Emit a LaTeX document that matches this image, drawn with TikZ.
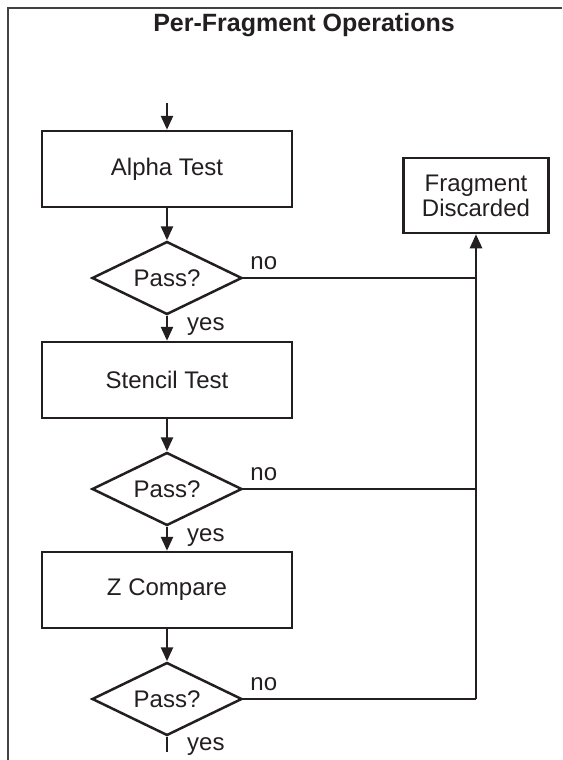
\documentclass[tikz,border=0pt]{standalone}
\usepackage{fontspec}
\setmainfont{Liberation Sans}
\usetikzlibrary{shapes.geometric,arrows.meta}
\definecolor{ink}{HTML}{231F20}
\begin{document}
\begin{tikzpicture}[x=1pt,y=-1pt,
  every node/.style={font=\fontsize{24}{25}\selectfont, text=ink},
  stagebox/.style={draw=ink, line width=2.5pt, rectangle, minimum width=250pt, minimum height=76pt, inner sep=0pt},
  discbox/.style={draw=ink, line width=2.5pt, rectangle, minimum width=145pt, minimum height=75pt, inner sep=0pt, align=center},
  decision/.style={draw=ink, line width=2.5pt, diamond, aspect=2, minimum width=150pt, minimum height=73pt, inner sep=0pt},
  flow/.style={draw=ink, line width=2.5pt, -{Triangle[length=14pt,width=12pt]}},
  plain/.style={draw=ink, line width=2.5pt},
  lbl/.style={anchor=base west, inner sep=0pt}]
\useasboundingbox (0,0) rectangle (562,760);
\fill[white] (0,0) rectangle (562,760);
% frame
\draw[line width=2pt, ink!85] (562,8) -- (8,8) -- (8,760);
% title
\node[anchor=base, inner sep=0pt, font=\fontsize{25}{26}\selectfont\bfseries] (title) at (304,31.5) {Per-Fragment Operations};
% nodes
\coordinate (start) at (167,103);
\node[stagebox] (alpha) at (167,169) {Alpha Test};
\node[decision] (d1) at (167,278) {Pass?};
\node[stagebox] (stencil) at (167,380) {Stencil Test};
\node[decision] (d2) at (167,489) {Pass?};
\node[stagebox] (zcmp) at (167,590) {Z Compare};
\node[decision] (d3) at (167,699) {Pass?};
\coordinate (end) at (167,752);
\node[discbox] (fd) at (476,195.5) {Fragment\\Discarded};
\coordinate (j1) at (fd.south |- d1.east);
\coordinate (j2) at (fd.south |- d2.east);
\coordinate (j3) at (fd.south |- d3.east);
% flow
\draw[flow] (start) -- (alpha.north);
\draw[flow] (alpha.south) -- (d1.north);
\draw[flow] (d1.south) -- (stencil.north);
\draw[flow] (stencil.south) -- (d2.north);
\draw[flow] (d2.south) -- (zcmp.north);
\draw[flow] (zcmp.south) -- (d3.north);
\draw[plain] (d3.south) -- (end);
% discard path
\draw[plain] (d1.east) -- (j1);
\draw[plain] (d2.east) -- (j2);
\draw[plain] (d3.east) -- (j3);
\draw[flow] (j3) -- (fd.south);
% labels
\node[lbl] (no1) at ([xshift=7pt,yshift=9pt]d1.east) {no};
\node[lbl] (no2) at ([xshift=7pt,yshift=9pt]d2.east) {no};
\node[lbl] (no3) at ([xshift=7pt,yshift=9pt]d3.east) {no};
\node[lbl] (yes1) at ([xshift=20pt,yshift=-15pt]d1.south) {yes};
\node[lbl] (yes2) at ([xshift=20pt,yshift=-15pt]d2.south) {yes};
\node[lbl] (yes3) at ([xshift=20pt,yshift=-14pt]d3.south) {yes};
\end{tikzpicture}
\end{document}
